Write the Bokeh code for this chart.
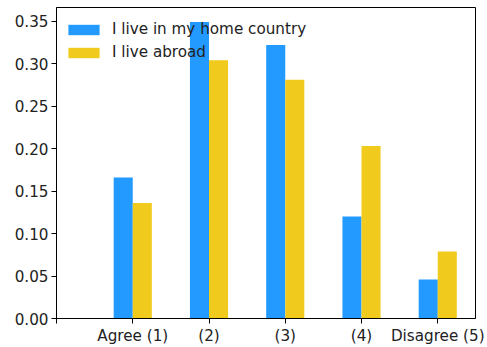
from bokeh.plotting import figure
from bokeh.models import ColumnDataSource, FixedTicker, Range1d, Legend, LegendItem
from bokeh.embed import file_html
from bokeh.resources import INLINE

categories = ["Agree (1)", "(2)", "(3)", "(4)", "Disagree (5)"]
home = [0.166, 0.349, 0.322, 0.120, 0.046]
abroad = [0.136, 0.304, 0.281, 0.203, 0.079]
series_names = ["I live in my home country", "I live abroad"]
colors = ["#229aff", "#f1ca1e"]
yticks = [0.0, 0.05, 0.10, 0.15, 0.20, 0.25, 0.30, 0.35]

positions = [i + 1 for i in range(len(categories))]
bar_w = 0.25

src = ColumnDataSource(dict(
    x_home=[p - bar_w / 2 for p in positions],
    x_abroad=[p + bar_w / 2 for p in positions],
    home=home, abroad=abroad,
))

FONT = "DejaVu Sans"
FS = "15.2px"

p = figure(width=487, height=347, output_backend="svg", toolbar_location=None,
           x_range=Range1d(0, 5.495), y_range=Range1d(0, 0.3662),
           min_border_left=56, min_border_right=12, min_border_top=7, min_border_bottom=26)
p.background_fill_color = "white"
p.border_fill_color = "white"
p.outline_line_color = "black"
p.outline_line_width = 1
p.grid.visible = False

r1 = p.vbar(x="x_home", top="home", width=bar_w, source=src,
            fill_color=colors[0], line_color=None)
r2 = p.vbar(x="x_abroad", top="abroad", width=bar_w, source=src,
            fill_color=colors[1], line_color=None)

ticks = [0] + positions
p.xaxis.ticker = FixedTicker(ticks=ticks)
overrides = {0: ""}
for pos, lab in zip(positions, categories):
    overrides[pos] = lab
p.xaxis.major_label_overrides = overrides
p.yaxis.ticker = FixedTicker(ticks=yticks)
p.yaxis.major_label_overrides = {t: f"{t:.2f}" for t in yticks}

for ax in (p.xaxis, p.yaxis):
    ax.major_label_text_font = FONT
    ax.major_label_text_font_size = FS
    ax.major_label_text_color = "#222222"
    ax.major_tick_out = 5
    ax.major_tick_in = 0
    ax.minor_tick_out = 0
    ax.minor_tick_in = 0
    ax.axis_line_color = "black"
    ax.major_tick_line_color = "black"
    ax.major_label_standoff = 3

legend = Legend(items=[LegendItem(label=series_names[0], renderers=[r1]),
                       LegendItem(label=series_names[1], renderers=[r2])],
                location=(0, 248))
legend.background_fill_alpha = 0
legend.border_line_alpha = 0
legend.margin = 0
legend.padding = 8
legend.glyph_width = 39
legend.glyph_height = 13
legend.label_height = 20
legend.spacing = 3
legend.label_standoff = 9
legend.label_text_font = FONT
legend.label_text_font_size = FS
legend.label_text_color = "#222222"
p.add_layout(legend)

open("out.html", "w").write(file_html(p, INLINE))
